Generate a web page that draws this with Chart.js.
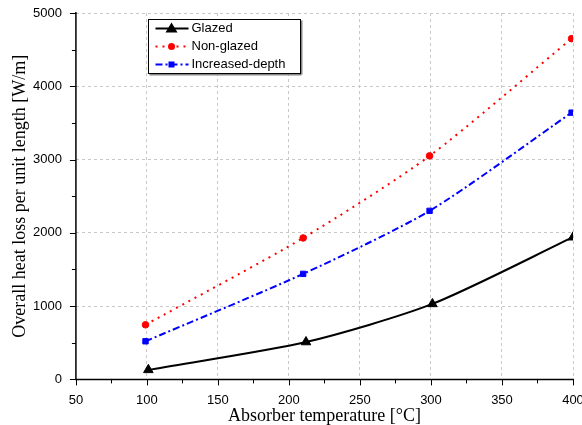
<!DOCTYPE html>
<html>
<head>
<meta charset="utf-8">
<script src="https://cdn.jsdelivr.net/npm/chart.js@4"></script>
<style>
    body { margin: 0; background: #fff; }
    #wrap { width: 582px; height: 425px; }
</style>
</head>
<body>
<div id="wrap"><canvas id="chart" width="582" height="425"></canvas></div>
<script>
// Data
const seriesNames = ['Glazed', 'Non-glazed', 'Increased-depth'];
const glazedX = [101, 212, 301, 400];
const glazedY = [130, 510, 1030, 1940];
const nonGlazedX = [99, 210, 299, 399];
const nonGlazedY = [745, 1930, 3050, 4650];
const depthX = [99, 210, 299, 399];
const depthY = [520, 1440, 2300, 3640];
const xTicks = [50, 100, 150, 200, 250, 300, 350, 400];
const yTicks = [0, 1000, 2000, 3000, 4000, 5000];

function toPoints(xs, ys) {
    return xs.map((x, i) => ({ x: x, y: ys[i] }));
}

const serif = "'Liberation Serif', 'Times New Roman', serif";
const sans = "'Liberation Sans', Arial, sans-serif";

// Axis lines, major + minor ticks and the boxed legend
const axesPlugin = {
    id: 'axesPlugin',
    afterDraw(chart) {
        const ctx = chart.ctx;
        const a = chart.chartArea;
        const xs = chart.scales.x, ys = chart.scales.y;
        ctx.save();
        ctx.strokeStyle = '#000';
        ctx.lineWidth = 1.5;
        ctx.beginPath();
        ctx.moveTo(a.left, a.top - 1);
        ctx.lineTo(a.left, a.bottom);
        ctx.lineTo(a.right + 1, a.bottom);
        ctx.stroke();
        ctx.lineWidth = 1;
        for (let v = 50; v <= 400; v += 25) {
            const px = Math.round(xs.getPixelForValue(v)) + 0.5;
            const len = v % 50 === 0 ? 6 : 4;
            ctx.beginPath();
            ctx.moveTo(px, a.bottom);
            ctx.lineTo(px, a.bottom + len);
            ctx.stroke();
        }
        for (let v = 0; v <= 5000; v += 500) {
            const py = Math.round(ys.getPixelForValue(v)) + 0.5;
            const len = v % 1000 === 0 ? 6 : 4;
            ctx.beginPath();
            ctx.moveTo(a.left, py);
            ctx.lineTo(a.left - len, py);
            ctx.stroke();
        }

        // legend
        const lx = 148.5, ly = 19.5, lw = 152, lh = 54;
        ctx.fillStyle = '#fff';
        ctx.fillRect(lx, ly, lw, lh);
        ctx.strokeStyle = '#000';
        ctx.lineWidth = 1;
        ctx.strokeRect(lx, ly, lw, lh);
        ctx.fillStyle = '#888';
        ctx.fillRect(lx + 1, ly + lh + 0.5, lw, 1.5);
        ctx.fillRect(lx + lw + 0.5, ly + 1, 1.5, lh);
        chart.data.datasets.forEach((ds, i) => {
            const y = ly + 9 + i * 18;
            ctx.strokeStyle = ds.borderColor;
            ctx.lineWidth = ds.borderWidth;
            ctx.setLineDash(ds.borderDash || []);
            ctx.beginPath();
            ctx.moveTo(lx + 7, y);
            ctx.lineTo(lx + 40, y);
            ctx.stroke();
            ctx.setLineDash([]);
            ctx.fillStyle = ds.borderColor;
            const cx = lx + 23;
            ctx.beginPath();
            if (ds.pointStyle === 'triangle') {
                ctx.moveTo(cx, y - 6);
                ctx.lineTo(cx + 6, y + 4);
                ctx.lineTo(cx - 6, y + 4);
            } else if (ds.pointStyle === 'rect') {
                ctx.rect(cx - 3, y - 3, 6, 6);
            } else {
                ctx.arc(cx, y, 3.5, 0, Math.PI * 2);
            }
            ctx.fill();
            ctx.fillStyle = '#000';
            ctx.font = '13px ' + sans;
            ctx.textBaseline = 'middle';
            ctx.textAlign = 'left';
            ctx.fillText(ds.label, lx + 43, y);
        });
        ctx.restore();
    }
};

const ctx = document.getElementById('chart').getContext('2d');
new Chart(ctx, {
    type: 'line',
    data: {
        datasets: [
            {
                label: seriesNames[0],
                data: toPoints(glazedX, glazedY),
                borderColor: '#000000',
                backgroundColor: '#000000',
                borderWidth: 2,
                pointStyle: 'triangle',
                pointRadius: 5.5,
                pointBorderWidth: 1,
                tension: 0.25
            },
            {
                label: seriesNames[1],
                data: toPoints(nonGlazedX, nonGlazedY),
                borderColor: '#ff0000',
                backgroundColor: '#ff0000',
                borderWidth: 2,
                borderDash: [2, 5],
                pointStyle: 'circle',
                pointRadius: 3.3,
                pointBorderWidth: 1,
                tension: 0.25
            },
            {
                label: seriesNames[2],
                data: toPoints(depthX, depthY),
                borderColor: '#0000ff',
                backgroundColor: '#0000ff',
                borderWidth: 2,
                borderDash: [7, 3, 2, 3],
                pointStyle: 'rect',
                pointRadius: 3.8,
                pointBorderWidth: 1,
                tension: 0.25
            }
        ]
    },
    options: {
        responsive: false,
        animation: false,
        layout: { padding: { left: 8, right: 9, top: 13, bottom: 0 } },
        plugins: {
            legend: { display: false },
            tooltip: { enabled: false }
        },
        scales: {
            x: {
                type: 'linear',
                min: 50,
                max: 400,
                afterBuildTicks: s => { s.ticks = xTicks.map(v => ({ value: v })); },
                afterFit: s => { s.paddingLeft = 0; s.paddingRight = 0; },
                ticks: {
                    color: '#000', font: { family: sans, size: 13 }, padding: 7, maxRotation: 0,
                    callback: v => String(v)
                },
                grid: {
                    color: c => c.tick && c.tick.value === 50 ? 'rgba(0,0,0,0)' : '#c8c8c8',
                    lineWidth: 1,
                    drawTicks: true,
                    tickLength: 6,
                    tickColor: 'rgba(0,0,0,0)'
                },
                border: { display: false, dash: [3, 3] },
                title: {
                    display: true,
                    text: 'Absorber temperature [°C]',
                    color: '#000',
                    font: { family: serif, size: 18, lineHeight: 1.0 },
                    padding: { top: -8, bottom: 0 },
                    align: 'center'
                }
            },
            y: {
                min: 0,
                max: 5000,
                afterBuildTicks: s => { s.ticks = yTicks.map(v => ({ value: v })); },
                afterFit: s => { s.paddingTop = 0; s.paddingBottom = 0; },
                ticks: {
                    color: '#000', font: { family: sans, size: 13 }, padding: 8,
                    callback: v => String(v)
                },
                grid: {
                    color: c => c.tick && c.tick.value === 0 ? 'rgba(0,0,0,0)' : '#c8c8c8',
                    lineWidth: 1,
                    tickLength: 6,
                    tickColor: 'rgba(0,0,0,0)'
                },
                border: { display: false, dash: [3, 3] },
                title: {
                    display: true,
                    text: 'Overall heat loss per unit length [W/m]',
                    color: '#000',
                    font: { family: serif, size: 18, lineHeight: 1.0 },
                    padding: { top: 3, bottom: -4 }
                }
            }
        }
    },
    plugins: [axesPlugin]
});
</script>
</body>
</html>
